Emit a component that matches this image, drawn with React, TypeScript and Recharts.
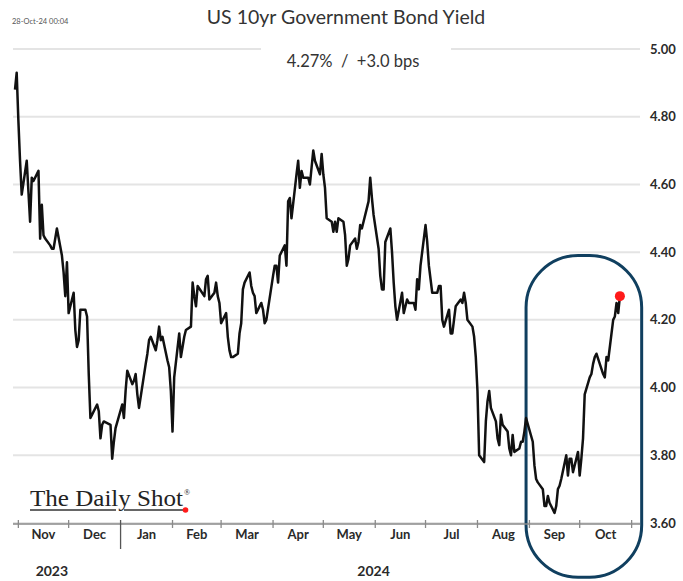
import React from "react";
import {
  LineChart,
  Line,
  XAxis,
  YAxis,
  CartesianGrid,
  ReferenceDot,
  ReferenceArea,
} from "recharts";

// ---- data (US 10yr yield, %, business days) ----
const dates = [
  "2023-10-30","2023-10-31",
  "2023-11-01","2023-11-02","2023-11-03","2023-11-06","2023-11-07","2023-11-08","2023-11-09","2023-11-10","2023-11-13","2023-11-14","2023-11-15","2023-11-16","2023-11-17","2023-11-20","2023-11-21","2023-11-22","2023-11-24","2023-11-27","2023-11-28","2023-11-29","2023-11-30",
  "2023-12-01","2023-12-04","2023-12-05","2023-12-06","2023-12-07","2023-12-08","2023-12-11","2023-12-12","2023-12-13","2023-12-14","2023-12-15","2023-12-18","2023-12-19","2023-12-20","2023-12-21","2023-12-22","2023-12-26","2023-12-27","2023-12-28","2023-12-29",
  "2024-01-02","2024-01-03","2024-01-04","2024-01-05","2024-01-08","2024-01-09","2024-01-10","2024-01-11","2024-01-12","2024-01-16","2024-01-17","2024-01-18","2024-01-19","2024-01-22","2024-01-23","2024-01-24","2024-01-25","2024-01-26","2024-01-29","2024-01-30","2024-01-31",
  "2024-02-01","2024-02-02","2024-02-05","2024-02-06","2024-02-07","2024-02-08","2024-02-09","2024-02-12","2024-02-13","2024-02-14","2024-02-15","2024-02-16","2024-02-20","2024-02-21","2024-02-22","2024-02-23","2024-02-26","2024-02-27","2024-02-28","2024-02-29",
  "2024-03-01","2024-03-04","2024-03-05","2024-03-06","2024-03-07","2024-03-08","2024-03-11","2024-03-12","2024-03-13","2024-03-14","2024-03-15","2024-03-18","2024-03-19","2024-03-20","2024-03-21","2024-03-22","2024-03-25","2024-03-26","2024-03-27","2024-03-28",
  "2024-04-01","2024-04-02","2024-04-03","2024-04-04","2024-04-05","2024-04-08","2024-04-09","2024-04-10","2024-04-11","2024-04-12","2024-04-15","2024-04-16","2024-04-17","2024-04-18","2024-04-19","2024-04-22","2024-04-23","2024-04-24","2024-04-25","2024-04-26","2024-04-29","2024-04-30",
  "2024-05-01","2024-05-02","2024-05-03","2024-05-06","2024-05-07","2024-05-08","2024-05-09","2024-05-10","2024-05-13","2024-05-14","2024-05-15","2024-05-16","2024-05-17","2024-05-20","2024-05-21","2024-05-22","2024-05-23","2024-05-24","2024-05-28","2024-05-29","2024-05-30","2024-05-31",
  "2024-06-03","2024-06-04","2024-06-05","2024-06-06","2024-06-07","2024-06-10","2024-06-11","2024-06-12","2024-06-13","2024-06-14","2024-06-17","2024-06-18","2024-06-20","2024-06-21","2024-06-24","2024-06-25","2024-06-26","2024-06-27","2024-06-28",
  "2024-07-01","2024-07-02","2024-07-03","2024-07-05","2024-07-08","2024-07-09","2024-07-10","2024-07-11","2024-07-12","2024-07-15","2024-07-16","2024-07-17","2024-07-18","2024-07-19","2024-07-22","2024-07-23","2024-07-24","2024-07-25","2024-07-26","2024-07-29","2024-07-30","2024-07-31",
  "2024-08-01","2024-08-02","2024-08-05","2024-08-06","2024-08-07","2024-08-08","2024-08-09","2024-08-12","2024-08-13","2024-08-14","2024-08-15","2024-08-16","2024-08-19","2024-08-20","2024-08-21","2024-08-22","2024-08-23","2024-08-26","2024-08-27","2024-08-28","2024-08-29","2024-08-30",
  "2024-09-03","2024-09-04","2024-09-05","2024-09-06","2024-09-09","2024-09-10","2024-09-11","2024-09-12","2024-09-13","2024-09-16","2024-09-17","2024-09-18","2024-09-19","2024-09-20","2024-09-23","2024-09-24","2024-09-25","2024-09-26","2024-09-27","2024-09-30",
  "2024-10-01","2024-10-02","2024-10-03","2024-10-04","2024-10-07","2024-10-08","2024-10-09","2024-10-10","2024-10-11","2024-10-15","2024-10-16","2024-10-17","2024-10-18","2024-10-21","2024-10-22","2024-10-23","2024-10-24","2024-10-25",
];

const yields = [
  4.88, 4.93,
  4.79, 4.67, 4.57, 4.67, 4.58, 4.49, 4.62, 4.61, 4.64, 4.44, 4.54, 4.45, 4.44, 4.42, 4.41, 4.41, 4.47, 4.39, 4.34, 4.27, 4.37,
  4.22, 4.28, 4.17, 4.12, 4.14, 4.23, 4.23, 4.21, 4.04, 3.91, 3.92, 3.95, 3.93, 3.85, 3.89, 3.90, 3.89, 3.79, 3.84, 3.88,
  3.95, 3.91, 3.99, 4.05, 4.01, 4.02, 4.04, 3.98, 3.94, 4.07, 4.10, 4.14, 4.15, 4.11, 4.14, 4.18, 4.14, 4.15, 4.08, 4.06, 3.99,
  3.87, 4.03, 4.16, 4.09, 4.12, 4.15, 4.17, 4.18, 4.31, 4.27, 4.24, 4.30, 4.27, 4.32, 4.33, 4.26, 4.28, 4.31, 4.27, 4.25,
  4.19, 4.22, 4.15, 4.11, 4.09, 4.09, 4.10, 4.16, 4.19, 4.29, 4.31, 4.34, 4.30, 4.28, 4.27, 4.22, 4.25, 4.23, 4.19, 4.20,
  4.33, 4.36, 4.36, 4.31, 4.39, 4.42, 4.36, 4.55, 4.56, 4.50, 4.63, 4.67, 4.59, 4.64, 4.62, 4.62, 4.60, 4.65, 4.70, 4.67, 4.63, 4.69,
  4.63, 4.59, 4.50, 4.49, 4.46, 4.49, 4.46, 4.50, 4.49, 4.45, 4.36, 4.38, 4.42, 4.44, 4.41, 4.43, 4.48, 4.47, 4.55, 4.62, 4.56, 4.51,
  4.41, 4.33, 4.29, 4.29, 4.43, 4.47, 4.40, 4.31, 4.24, 4.20, 4.28, 4.22, 4.26, 4.25, 4.25, 4.23, 4.32, 4.29, 4.36,
  4.48, 4.43, 4.36, 4.28, 4.28, 4.30, 4.30, 4.20, 4.18, 4.23, 4.16, 4.16, 4.20, 4.24, 4.26, 4.25, 4.28, 4.25, 4.20, 4.18, 4.15, 4.09,
  3.99, 3.80, 3.78, 3.90, 3.96, 3.99, 3.94, 3.90, 3.85, 3.83, 3.92, 3.89, 3.87, 3.82, 3.80, 3.86, 3.81, 3.82, 3.84, 3.84, 3.87, 3.91,
  3.84, 3.77, 3.73, 3.72, 3.70, 3.65, 3.65, 3.68, 3.66, 3.63, 3.65, 3.70, 3.71, 3.73, 3.80, 3.74, 3.79, 3.79, 3.75, 3.81,
  3.74, 3.79, 3.85, 3.98, 4.03, 4.04, 4.07, 4.09, 4.10, 4.04, 4.03, 4.09, 4.08, 4.20, 4.21, 4.25, 4.22, 4.27,
];

const monthStarts = [
  "2023-11-01","2023-12-01","2024-01-01","2024-02-01","2024-03-01","2024-04-01",
  "2024-05-01","2024-06-01","2024-07-01","2024-08-01","2024-09-01","2024-10-01","2024-11-01",
];
const monthLabels = ["Nov","Dec","Jan","Feb","Mar","Apr","May","Jun","Jul","Aug","Sep","Oct"];
const yearSeparator = "2024-01-01";
const yearLabels = ["2023", "2024"];
const yearLabelDates = ["2023-11-21", "2024-05-31"];
const yTicks = [3.6, 3.8, 4.0, 4.2, 4.4, 4.6, 4.8, 5.0];
const highlightDates = ["2024-08-30", "2024-11-07"];
const highlightYields = [3.44, 4.39];

const titleText = "US 10yr Government Bond Yield";
const subtitleText = "4.27%  /  +3.0 bps";
const stampText = "28-Oct-24 00:04";

// ---- helpers ----
const ORIGIN = Date.UTC(2023, 10, 1);
const dayOf = (s: string) => {
  const [y, m, d] = s.split("-").map(Number);
  return (Date.UTC(y, m - 1, d) - ORIGIN) / 86400000;
};

const data = dates.map((s, i) => ({ d: dayOf(s), y: yields[i] }));
const monthStartDays = monthStarts.map(dayOf);
const monthMidDays = monthLabels.map((_, i) => (monthStartDays[i] + monthStartDays[i + 1]) / 2);
const yearDays = yearLabelDates.map(dayOf);
const sepDay = dayOf(yearSeparator);
const X_DOMAIN: [number, number] = [-3.2, 371];
const last = data[data.length - 1];

const FONT = "Lato, 'Open Sans', sans-serif";
const AXIS_GRAY = "#8a8a8a";

const BoundaryTick = (props: any) => {
  const { x, y, payload } = props;
  const isSep = payload && payload.value === sepDay;
  return (
    <line
      x1={x}
      x2={x}
      y1={y - 4}
      y2={y + (isSep ? 25 : 4)}
      stroke={isSep ? "#555" : AXIS_GRAY}
      strokeWidth={1.3}
    />
  );
};

export default function App() {
  return (
    <div
      style={{
        position: "absolute",
        left: 0,
        top: 0,
        width: 683,
        height: 581,
        background: "#fff",
        overflow: "hidden",
      }}
    >
      <LineChart
        width={683}
        height={581}
        data={data}
        margin={{ top: 49, right: 0, bottom: 55, left: 13 }}
      >
        <CartesianGrid vertical={false} stroke="#e4e4e4" strokeWidth={2} xAxisId="m" />
        <XAxis
          xAxisId="m"
          type="number"
          dataKey="d"
          domain={X_DOMAIN}
          allowDataOverflow
          ticks={monthStartDays}
          interval={0}
          height={1}
          tickSize={0}
          tickMargin={0}
          tickLine={false}
          axisLine={{ stroke: AXIS_GRAY, strokeWidth: 1.5 }}
          tick={<BoundaryTick />}
        />
        <XAxis
          xAxisId="lbl"
          type="number"
          dataKey="d"
          domain={X_DOMAIN}
          allowDataOverflow
          ticks={monthMidDays}
          interval={0}
          height={1}
          tickSize={0}
          tickMargin={7}
          tickLine={false}
          axisLine={false}
          tickFormatter={(v: number) => monthLabels[monthMidDays.indexOf(v)] ?? ""}
          tick={{ fill: "#2a2a2a", fontSize: 13, fontWeight: 700, fontFamily: FONT }}
        />
        <XAxis
          xAxisId="yr"
          type="number"
          dataKey="d"
          domain={X_DOMAIN}
          allowDataOverflow
          ticks={yearDays}
          interval={0}
          height={1}
          tickSize={0}
          tickMargin={41}
          tickLine={false}
          axisLine={false}
          tickFormatter={(v: number) => yearLabels[yearDays.indexOf(v)] ?? ""}
          tick={{ fill: "#2a2a2a", fontSize: 14, fontWeight: 700, fontFamily: FONT }}
        />
        <YAxis
          orientation="right"
          type="number"
          domain={[3.6, 5.0]}
          ticks={yTicks}
          interval={0}
          width={43}
          tickSize={0}
          tickMargin={10}
          axisLine={false}
          tickLine={false}
          tickFormatter={(v: number) => v.toFixed(2)}
          tick={{ fill: "#2a2a2a", fontSize: 13, fontWeight: 700, fontFamily: FONT }}
        />
        <Line
          xAxisId="m"
          type="linear"
          dataKey="y"
          stroke="#111"
          strokeWidth={2.5}
          strokeLinejoin="round"
          dot={false}
          isAnimationActive={false}
        />
        <ReferenceDot
          xAxisId="m"
          x={last.d}
          y={last.y}
          r={5}
          fill="#ff1a1a"
          stroke="none"
          ifOverflow="visible"
        />
        <ReferenceArea
          xAxisId="m"
          x1={dayOf(highlightDates[0])}
          x2={dayOf(highlightDates[1])}
          y1={highlightYields[0]}
          y2={highlightYields[1]}
          ifOverflow="visible"
          shape={(p: any) => (
            <rect
              x={p.x}
              y={p.y}
              width={p.width}
              height={p.height}
              rx={52}
              ry={52}
              fill="none"
              stroke="#103f5f"
              strokeWidth={3}
            />
          )}
        />
      </LineChart>
      <svg
        width={683}
        height={581}
        style={{ position: "absolute", left: 0, top: 0, pointerEvents: "none" }}
      >
        <text x={12} y={24} fontSize={7.5} fill="#555" fontFamily={FONT}>
          {stampText}
        </text>
        <text
          x={346}
          y={24}
          textAnchor="middle"
          fontSize={19.5}
          fill="#333"
          fontFamily={FONT}
        >
          {titleText}
        </text>
        <rect x={261} y={42} width={190} height={30} fill="#fff" />
        <text
          x={353}
          y={67}
          textAnchor="middle"
          fontSize={16.5}
          fill="#333"
          fontFamily={FONT}
          style={{ whiteSpace: "pre" }}
        >
          {subtitleText}
        </text>
        <g>
          <text
            x={30}
            y={506}
            fontSize={24}
            fill="#222"
            fontFamily="'Liberation Serif', 'DejaVu Serif', serif"
            textLength={153}
            lengthAdjust="spacingAndGlyphs"
          >
            The Daily Shot
          </text>
          <text x={184} y={495} fontSize={8} fill="#222" fontFamily="'Liberation Serif', serif">
            ®
          </text>
          <line x1={30} x2={116} y1={510} y2={510} stroke="#333" strokeWidth={1.5} />
          <line x1={124} x2={183} y1={510} y2={510} stroke="#333" strokeWidth={1.5} />
          <circle cx={185.5} cy={510} r={2.8} fill="#ff1a1a" />
        </g>
      </svg>
    </div>
  );
}
